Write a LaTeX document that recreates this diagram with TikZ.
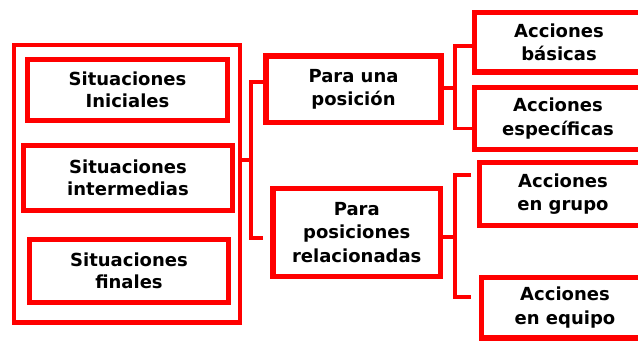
\documentclass[tikz,border=0pt]{standalone}
\usepackage{fontspec}
\setmainfont{DejaVu Sans}
\definecolor{boxred}{RGB}{255,0,0}
\begin{document}
\begin{tikzpicture}[x=1pt,y=-1pt,
  box/.style={draw=boxred, line width=5.5pt, rectangle, inner sep=0pt, outer sep=0pt,
    align=center, text=black, font=\bfseries\fontsize{18}{22}\selectfont},
  boxw/.style={box, font=\bfseries\fontsize{18}{23.5}\selectfont},
  frame/.style={draw=boxred, line width=4.5pt, rectangle, inner sep=0pt, outer sep=0pt},
  wire/.style={draw=boxred, line width=3.5pt, line join=miter},
]
\useasboundingbox (0,0) rectangle (638,341);
\clip (0,0) rectangle (638,341);
\fill[white] (0,0) rectangle (638,341);

\node[frame, minimum width=226pt, minimum height=277.5pt] (outer) at (127,183.75) {};
\node[box, minimum width=200pt, minimum height=61pt] (S1) at (127.5,90) {Situaciones\\Iniciales};
\node[box, minimum width=209pt, minimum height=65pt] (S2) at (128,178) {Situaciones\\intermedias};
\node[box, minimum width=199pt, minimum height=63pt] (S3) at (129,271) {Situaciones\\finales};

\node[boxw, minimum width=175pt, minimum height=66.5pt] (P1) at (353.5,89.25) {Para una\\posición};
\node[boxw, minimum width=167.5pt, minimum height=88pt] (P2) at (356.75,232.5) {Para\\posiciones\\relacionadas};

\node[boxw, minimum width=169pt, minimum height=59.5pt] (A1) at (559,42.25) {Acciones\\básicas};
\node[boxw, minimum width=167pt, minimum height=62pt] (A2) at (558,118.5) {Acciones\\específicas};
\node[boxw, minimum width=167pt, minimum height=63pt] (A3) at (563,194) {Acciones\\en grupo};
\node[boxw, minimum width=167pt, minimum height=60.5pt] (A4) at (565,307.75) {Acciones\\en equipo};

% left connector
\coordinate (jL) at (251,160);
\coordinate (jLt) at (251,82);
\coordinate (jLb) at (251,238);
\coordinate (eLb) at (263,238);
\draw[wire] (outer.east |- jL) -- (jL);
\draw[wire] (P1.west |- jLt) -- (jLt) -- (jLb) -- (eLb);

% right upper connector
\coordinate (jR1) at (455,88);
\coordinate (jR1t) at (455,46);
\coordinate (jR1b) at (455,128.5);
\draw[wire] (P1.east |- jR1) -- (jR1);
\draw[wire] (A1.west |- jR1t) -- (jR1t) -- (jR1b) -- (A2.west |- jR1b);

% right lower connector
\coordinate (jR2) at (455,237);
\coordinate (jR2t) at (455,175);
\coordinate (jR2b) at (455,297);
\coordinate (eR2t) at (471,175);
\coordinate (eR2b) at (471,297);
\draw[wire] (P2.east |- jR2) -- (jR2);
\draw[wire] (eR2t) -- (jR2t) -- (jR2b) -- (eR2b);
\end{tikzpicture}
\end{document}
